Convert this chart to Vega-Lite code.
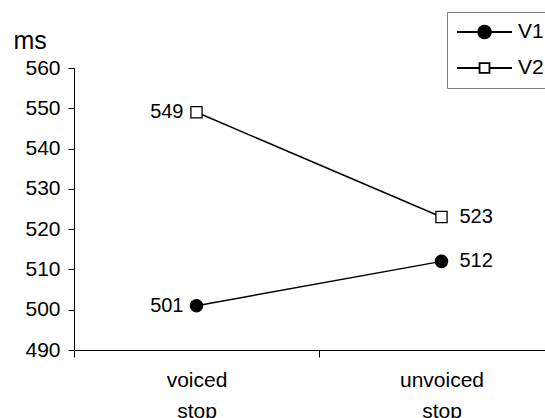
{
  "$schema": "https://vega.github.io/schema/vega-lite/v6.json",
  "autosize": "none",
  "width": 471,
  "height": 282,
  "padding": {"left": 74, "top": 68, "right": 0, "bottom": 68},
  "background": "white",
  "config": {
    "view": {"stroke": null},
    "font": "Liberation Sans",
    "axis": {
      "domainColor": "black",
      "tickColor": "black",
      "labelColor": "black",
      "labelFont": "Liberation Sans",
      "labelFontSize": 21,
      "titleFont": "Liberation Sans",
      "titleColor": "black",
      "grid": false
    }
  },
  "data": {
    "values": [
      {"cond": "voiced stop", "series": "V1", "ms": 501},
      {"cond": "unvoiced stop", "series": "V1", "ms": 512},
      {"cond": "voiced stop", "series": "V2", "ms": 549},
      {"cond": "unvoiced stop", "series": "V2", "ms": 523}
    ]
  },
  "encoding": {
    "x": {
      "field": "cond",
      "type": "nominal",
      "sort": ["voiced stop", "unvoiced stop"],
      "scale": {"type": "band", "range": [0, 490], "paddingInner": 0, "paddingOuter": 0},
      "axis": {
        "title": null,
        "labelAngle": 0,
        "tickBand": "extent",
        "tickSize": 7,
        "labelPadding": 12,
        "labelLineHeight": 31,
        "labelExpr": "split(datum.label, ' ')"
      }
    },
    "y": {
      "field": "ms",
      "type": "quantitative",
      "scale": {"domain": [490, 560], "nice": false, "zero": false},
      "axis": {
        "values": [490, 500, 510, 520, 530, 540, 550, 560],
        "tickSize": 6,
        "labelPadding": 8,
        "title": "ms",
        "titleAngle": 0,
        "titleAlign": "left",
        "titleBaseline": "alphabetic",
        "titleFontSize": 25,
        "titleFontWeight": "normal",
        "titleX": -61,
        "titleY": -20
      }
    }
  },
  "resolve": {
    "scale": {"shape": "independent", "fill": "independent", "size": "independent"},
    "legend": {"shape": "independent"}
  },
  "layer": [
    {
      "mark": {"type": "line", "color": "black", "strokeWidth": 1.5},
      "encoding": {"detail": {"field": "series"}}
    },
    {
      "mark": {"type": "point", "filled": true, "opacity": 1, "stroke": "black", "strokeWidth": 1.3},
      "encoding": {
        "shape": {
          "field": "series",
          "type": "nominal",
          "scale": {"domain": ["V1", "V2"], "range": ["circle", "square"]},
          "legend": null
        },
        "fill": {
          "field": "series",
          "type": "nominal",
          "scale": {"domain": ["V1", "V2"], "range": ["black", "white"]},
          "legend": null
        },
        "size": {
          "field": "series",
          "type": "nominal",
          "scale": {"domain": ["V1", "V2"], "range": [150, 125]},
          "legend": null
        }
      }
    },
    {
      "mark": {"type": "point", "filled": false, "opacity": 0, "size": 3025, "color": "black", "strokeWidth": 1.8},
      "encoding": {
        "shape": {
          "field": "series",
          "type": "nominal",
          "scale": {"domain": ["V1", "V2"], "range": ["M-1,0H1M0.233,0A0.233,0.233,0,1,1,-0.233,0A0.233,0.233,0,1,1,0.233,0M0.189,0A0.189,0.189,0,1,1,-0.189,0A0.189,0.189,0,1,1,0.189,0M0.145,0A0.145,0.145,0,1,1,-0.145,0A0.145,0.145,0,1,1,0.145,0M0.102,0A0.102,0.102,0,1,1,-0.102,0A0.102,0.102,0,1,1,0.102,0M0.058,0A0.058,0.058,0,1,1,-0.058,0A0.058,0.058,0,1,1,0.058,0M0.02,0A0.02,0.02,0,1,1,-0.02,0A0.02,0.02,0,1,1,0.02,0", "M-1,0H-0.18M0.18,0H1M-0.18,-0.18H0.18V0.18H-0.18Z"]},
          "legend": {
            "title": null,
            "orient": "none",
            "legendX": 373,
            "legendY": -56,
            "strokeColor": "#808080",
            "padding": 9,
            "clipHeight": 22,
            "rowPadding": 14,
            "labelFontSize": 21,
            "labelFont": "Liberation Sans",
            "labelColor": "black",
            "labelOffset": 5,
            "labelExpr": "datum.label + '\u00a0\u00a0\u00a0'",
            "symbolSize": 3025,
            "symbolStrokeWidth": 1.8,
            "symbolStrokeColor": "black",
            "symbolOpacity": 1
          }
        }
      }
    },
    {
      "transform": [{"filter": "datum.cond === 'voiced stop'"}],
      "mark": {"type": "text", "align": "right", "baseline": "middle", "dx": -13, "fontSize": 20, "font": "Liberation Sans", "color": "black"},
      "encoding": {"text": {"field": "ms", "type": "quantitative"}}
    },
    {
      "transform": [{"filter": "datum.cond === 'unvoiced stop'"}],
      "mark": {"type": "text", "align": "left", "baseline": "middle", "dx": 18, "fontSize": 20, "font": "Liberation Sans", "color": "black"},
      "encoding": {"text": {"field": "ms", "type": "quantitative"}}
    }
  ]
}
